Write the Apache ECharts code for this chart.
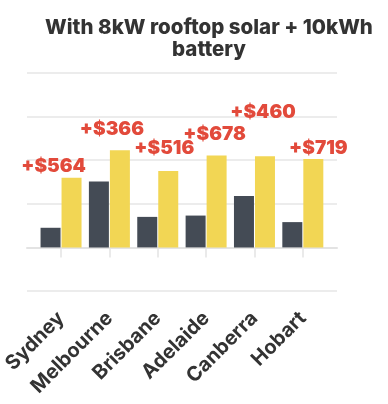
<!DOCTYPE html>
<html>
<head>
<meta charset="utf-8">
<script src="https://cdn.jsdelivr.net/npm/echarts@6/dist/echarts.min.js"></script>
<style>html,body{margin:0;padding:0;background:#fff}#c{width:388px;height:404px}</style>
</head>
<body>
<div id="c"></div>
<script>
var categories = ['Sydney', 'Melbourne', 'Brisbane', 'Adelaide', 'Canberra', 'Hobart'];
var withoutSolar = [0.45, 1.51, 0.70, 0.73, 1.18, 0.58];
var withSolar = [1.60, 2.23, 1.75, 2.11, 2.09, 2.03];
var savingsLabels = ['+$564', '+$366', '+$516', '+$678', '+$460', '+$719'];
var titleText = 'With 8kW rooftop solar + 10kWh\nbattery';

// label layout tweaks (pixels), not data
var labelOffsets = [[-18, -2], [-8, -11], [-4, -13], [-2, -12], [-2, -34], [5, -1]];

var FONT = 'Inter, "Noto Sans", sans-serif';
var chart = echarts.init(document.getElementById('c'), null, {renderer: 'canvas'});
chart.setOption({
  animation: false,
  title: {
    text: titleText,
    left: 204, top: 12,
    textAlign: 'center',
    textStyle: {fontFamily: FONT, fontSize: 20.5, fontWeight: 800, color: '#333', lineHeight: 22}
  },
  grid: [
    {left: 27, right: 51, top: 73, bottom: 113},
    {left: 36, right: 61, top: 73, bottom: 113}
  ],
  xAxis: [
    {gridIndex: 0, type: 'category', data: categories, axisLine: {show: true, lineStyle: {color: '#e3e3e3', width: 2}},
     axisTick: {show: false}, axisLabel: {show: false}},
    {gridIndex: 1, type: 'category', data: categories, axisLine: {show: false},
     axisTick: {show: true, alignWithLabel: true, length: 10, lineStyle: {color: '#e3e3e3', width: 1.5}},
     axisLabel: {rotate: 45, margin: 24, fontFamily: FONT, fontSize: 20, fontWeight: 700, color: '#333', interval: 0}}
  ],
  yAxis: [
    {gridIndex: 0, type: 'value', min: -1, max: 4, interval: 1, axisLabel: {show: false}, axisLine: {show: false}, axisTick: {show: false},
     splitLine: {lineStyle: {color: '#ececec', width: 2}}},
    {gridIndex: 1, type: 'value', min: -1, max: 4, interval: 1, axisLabel: {show: false}, axisLine: {show: false}, axisTick: {show: false},
     splitLine: {show: false}}
  ],
  series: [
    {type: 'bar', xAxisIndex: 1, yAxisIndex: 1, data: withoutSolar, barWidth: 20, barGap: '5%',
     itemStyle: {color: '#444b55'}},
    {type: 'bar', xAxisIndex: 1, yAxisIndex: 1, barWidth: 20,
     data: withSolar.map(function (v, i) {
       return {value: v, label: {offset: labelOffsets[i]}};
     }),
     itemStyle: {color: '#f2d654'},
     label: {show: true, position: 'top', distance: 0,
       formatter: function (p) { return savingsLabels[p.dataIndex]; },
       fontFamily: FONT, fontSize: 19, fontWeight: 900, color: '#e24a3b'}}
  ]
});
</script>
</body>
</html>
